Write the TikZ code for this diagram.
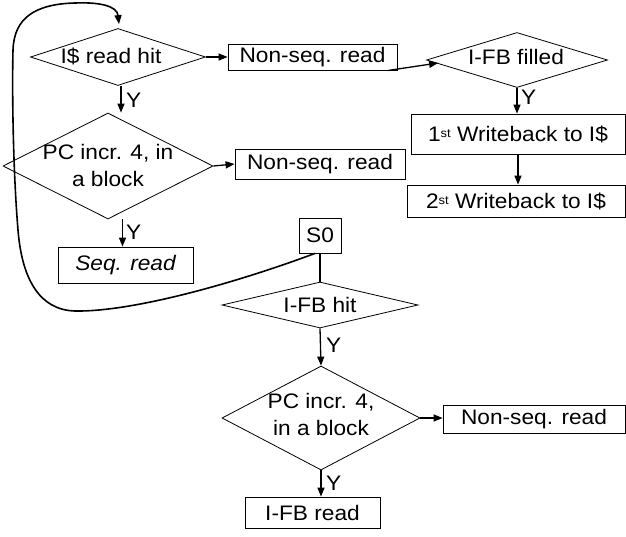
\documentclass[tikz,border=0pt]{standalone}
\usepackage{fontspec}
\setmainfont[FakeStretch=1.08]{Liberation Sans}
\usetikzlibrary{shapes.geometric,arrows.meta,calc}
\begin{document}
\begin{tikzpicture}[x=1pt,y=-1pt,
  every node/.style={font=\fontsize{21}{27}\selectfont},
  dia/.style={draw,diamond,inner sep=0pt,line width=0.8pt},
  boxnode/.style={draw,rectangle,inner sep=0pt,line width=0.8pt},
  lbl/.style={align=center,inner sep=0pt},
  flow/.style={line width=1.3pt,-{Triangle[length=9pt,width=7pt]}},
  plainline/.style={line width=1.3pt},
  loopline/.style={line width=1.6pt,-{Triangle[length=9pt,width=7pt]}},
  ylab/.style={inner sep=0pt,anchor=west}]
\useasboundingbox (0,0) rectangle (626,536);

% instruction cache path
\node[dia,minimum width=175pt,minimum height=57pt] (d1) at (118,57) {};
\node[lbl] (d1t) at (111,56) {I\$ read hit};
\node[boxnode,minimum width=169pt,minimum height=26pt] (nsr1) at (312.5,57) {Non-seq. read};
\node[dia,minimum width=181pt,minimum height=55pt] (dfill) at (517,60) {};
\node[lbl] (dfillt) at (516,57) {I-FB filled};
\node[boxnode,minimum width=214pt,minimum height=40pt] (wb1) at (518,134) {1{\fontsize{12}{12}\selectfont\raisebox{0.6ex}{st}} Writeback to I\$};
\node[boxnode,minimum width=218pt,minimum height=32pt] (wb2) at (516,201) {2{\fontsize{12}{12}\selectfont\raisebox{0.6ex}{st}} Writeback to I\$};
\node[dia,minimum width=210pt,minimum height=106pt] (d2) at (108,166) {};
\node[lbl] (d2t) at (108,165) {PC incr. 4, in\\a block};
\node[boxnode,minimum width=170pt,minimum height=30pt] (nsr2) at (320,164) {Non-seq. read};
\node[boxnode,minimum width=135pt,minimum height=36pt,font=\fontsize{21}{27}\selectfont\itshape] (seq) at (125.5,265) {Seq. read};

% fill buffer path
\node[boxnode,minimum width=42pt,minimum height=35pt] (s0) at (320,235.5) {S0};
\node[dia,minimum width=196pt,minimum height=46pt] (d3) at (320,305) {};
\node[lbl] (d3t) at (320,305) {I-FB hit};
\node[dia,minimum width=198pt,minimum height=104pt] (d4) at (321,418) {};
\node[lbl] (d4t) at (321,414) {PC incr. 4,\\in a block};
\node[boxnode,minimum width=182pt,minimum height=28pt] (nsr3) at (534,419.5) {Non-seq. read};
\node[boxnode,minimum width=135pt,minimum height=31pt] (ifbr) at (312.5,512.5) {I-FB read};

% connectors
\draw[flow] (d1.east) -- (nsr1.west);
\draw[flow] ($(nsr1.south east)+(-9,0)$) -- ($(dfill.west)+(12,3)$);
\coordinate (d2in) at ($(d1.south)+(3,0)$);
\draw[flow] (d2in) -- (d2in |- d2.north);
\node[ylab] (y1) at (126,100) {Y};
\draw[flow] (d2.east) -- (nsr2.west);
\coordinate (seqin) at ($(seq.north)+(-3,0)$);
\draw[flow] (seqin |- d2.south) -- (seqin);
\node[ylab] (y2) at (126,232) {Y};
\draw[flow] (dfill.south) -- (dfill.south |- wb1.north);
\node[ylab] (y3) at (521,97) {Y};
\draw[flow] (wb1.south) -- (wb1.south |- wb2.north);

\draw[plainline] (s0.south) -- (d3.north);
\draw[flow] (d3.south) -- (d4.north);
\node[ylab] (y4) at (326,345) {Y};
\draw[flow] (d4.east) -- (d4.east -| nsr3.west);
\draw[flow] (d4.south) -- (d4.south |- ifbr.north);
\node[ylab] (y5) at (326,483) {Y};

% loop back from S0 to the cache lookup
\coordinate (loopstart) at ($(s0.south)+(-5,0)$);
\coordinate (loopend) at ($(d1.north)+(1,-4)$);
\draw[loopline] (loopstart) .. controls (230,285) and (130,312) .. (75,311)
  .. controls (40,310) and (22,280) .. (18,230)
  .. controls (13,170) and (12,90) .. (13,50)
  .. controls (14,18) and (35,4) .. (75,3)
  .. controls (100,2) and (117,6) .. (loopend);
\end{tikzpicture}
\end{document}
